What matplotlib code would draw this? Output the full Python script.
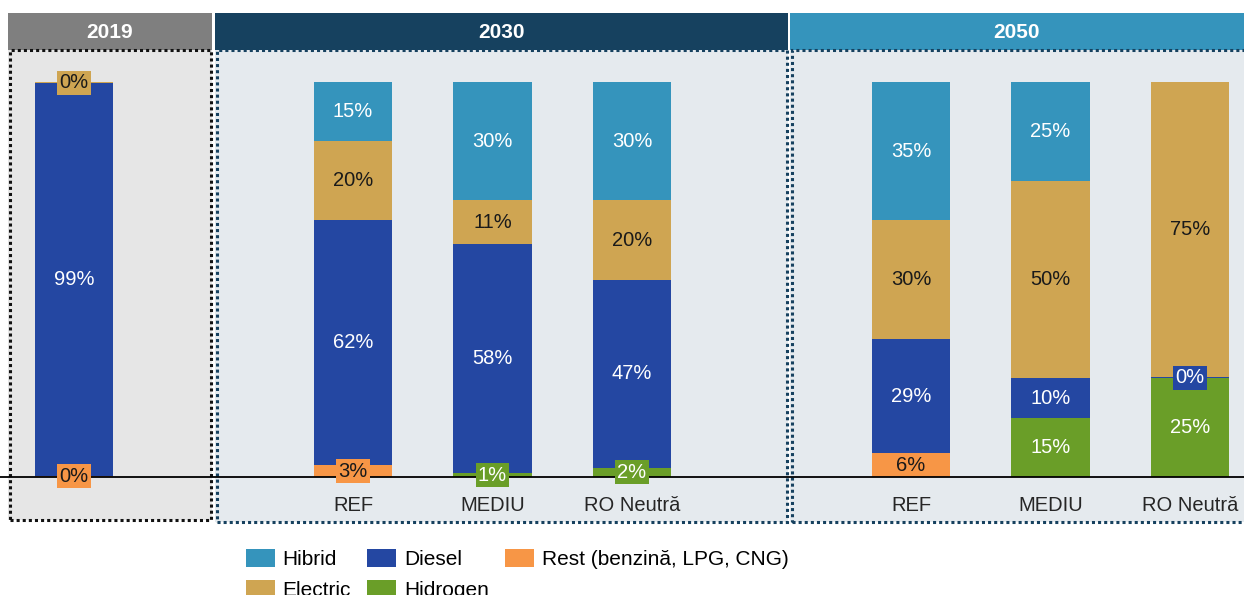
import matplotlib.pyplot as plt
import numpy as np
from matplotlib.patches import Rectangle, Patch

plt.rcParams["font.family"] = ["Liberation Sans", "DejaVu Sans"]

# Bar slots on one shared axis (gaps at 1 and 5 split the years)
positions = [0, 2, 3, 4, 6, 7, 8]
scenarios = ["", "REF", "MEDIU", "RO Neutră", "REF", "MEDIU", "RO Neutră"]

# Shares per fuel type, % (nan = not present / not labelled)
rest = [0.3, 3, np.nan, np.nan, 6, np.nan, np.nan]
hidrogen = [np.nan, np.nan, 1, 2.4, np.nan, 15, 25]
diesel = [99.4, 62, 58, 47.4, 29, 10, 0.3]
electric = [0.3, 20, 11, 20.2, 30, 50, 74.7]
hibrid = [np.nan, 15, 30, 30, 35, 25, np.nan]

series = [
    ("Rest (benzină, LPG, CNG)", rest, "#f79646", "#1a1a1a"),
    ("Hidrogen", hidrogen, "#6a9e28", "white"),
    ("Diesel", diesel, "#2447a2", "white"),
    ("Electric", electric, "#cfa552", "#1a1a1a"),
    ("Hibrid", hibrid, "#3594bc", "white"),
]

W, H = 1244, 595
fig = plt.figure(figsize=(W / 100, H / 100), dpi=100)
ax = fig.add_axes([0, 0, 1, 1])
ax.set_xlim(-74 / 139.5, (W - 74) / 139.5)
ax.set_ylim(-(H - 477) / 3.95, 477 / 3.95)
ax.axis("off")


def box(x0, y0, x1, y1, **kw):
    r = Rectangle((x0 / W, 1 - y1 / H), (x1 - x0) / W, (y1 - y0) / H,
                  transform=ax.transAxes, **kw)
    ax.add_patch(r)
    return r


# year panels: background, header and dotted frame
panels = [
    ("2019", 8, 212, 520, "#e6e6e6", "#7f7f7f", "#111111"),
    ("2030", 215, 788, 522, "#e5eaee", "#16415f", "#16415f"),
    ("2050", 790, 1250, 522, "#e5eaee", "#3594bc", "#16415f"),
]
for year, x0, x1, yb, bg, head, frame in panels:
    box(x0, 50, x1, yb, facecolor=bg, edgecolor="none", zorder=0)
    box(x0, 13, x1, 50, facecolor=head, edgecolor="none", zorder=1)
    box(x0 + 1.5, 50, x1 - 1.5, yb, facecolor="none", edgecolor=frame,
        lw=2.2, ls=(0, (1, 1)), zorder=1)
    ax.text((x0 + min(x1, W)) / 2 / W, 1 - 32 / H, year, transform=ax.transAxes,
            ha="center", va="center", color="white", fontsize=15, fontweight="bold", zorder=3)

ax.axhline(0, color="black", lw=1.3, zorder=3)

bottom = np.zeros(len(positions))
for name, vals, color, tcolor in series:
    v = np.nan_to_num(np.array(vals, dtype=float))
    ax.bar(positions, v, width=0.56, bottom=bottom, color=color, zorder=2)
    for x, val, b in zip(positions, vals, bottom):
        if np.isnan(val):
            continue
        kw = {}
        if val < 5:
            kw["bbox"] = dict(boxstyle="square,pad=0.12", facecolor=color, edgecolor="none")
        ax.text(x, b + val / 2, f"{val:.0f}%", ha="center", va="center",
                color=tcolor, fontsize=14.5, zorder=4, **kw)
    bottom += v

for x, lab in zip(positions, scenarios):
    ax.text(x, -7.1, lab, ha="center", va="center", color="#262626", fontsize=14.5, zorder=4)

colors = {name: c for name, _, c, _ in series}
order = ["Hibrid", "Electric", "Diesel", "Hidrogen", "Rest (benzină, LPG, CNG)"]
handles = [Patch(facecolor=colors[n], edgecolor="none") for n in order]
fig.legend(handles, order, ncol=3, loc="upper left", bbox_to_anchor=(246 / W, 1 - 549 / H),
           frameon=False, fontsize=15, handlelength=1.38, handleheight=0.95,
           handletextpad=0.38, columnspacing=0.78, labelspacing=0.5, borderpad=0,
           borderaxespad=0)

fig.savefig("out.png", dpi=100)
